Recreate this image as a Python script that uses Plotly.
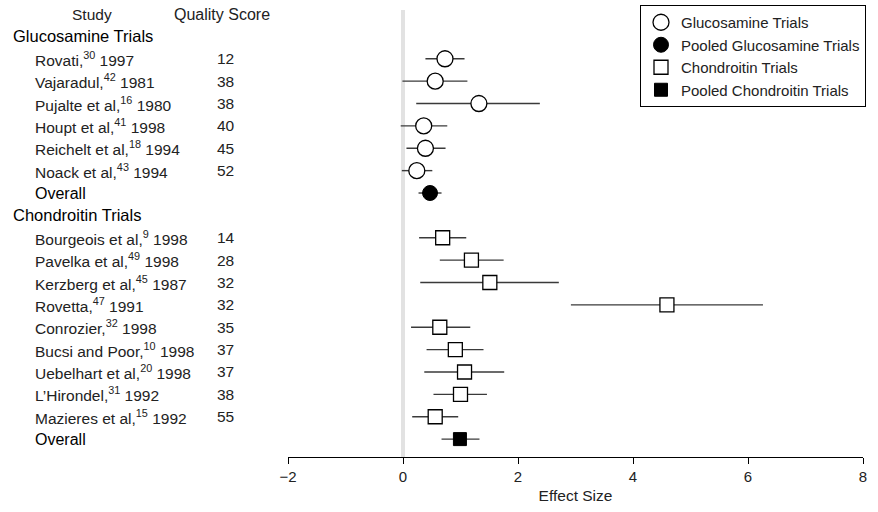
import plotly.graph_objects as go

# ---------------- data ----------------
gluc_studies = ["Rovati,<sup>30</sup> 1997", "Vajaradul,<sup>42</sup> 1981", "Pujalte et al,<sup>16</sup> 1980",
                "Houpt et al,<sup>41</sup> 1998", "Reichelt et al,<sup>18</sup> 1994", "Noack et al,<sup>43</sup> 1994"]
gluc_quality = [12, 38, 38, 40, 45, 52]
gluc_est = [0.73, 0.56, 1.32, 0.36, 0.39, 0.24]
gluc_lo = [0.39, -0.01, 0.23, -0.04, 0.06, -0.02]
gluc_hi = [1.07, 1.12, 2.38, 0.77, 0.74, 0.51]
gluc_pooled_est = [0.47]
gluc_pooled_lo = [0.27]
gluc_pooled_hi = [0.67]

chond_studies = ["Bourgeois et al,<sup>9</sup> 1998", "Pavelka et al,<sup>49</sup> 1998", "Kerzberg et al,<sup>45</sup> 1987",
                 "Rovetta,<sup>47</sup> 1991", "Conrozier,<sup>32</sup> 1998", "Bucsi and Poor,<sup>10</sup> 1998",
                 "Uebelhart et al,<sup>20</sup> 1998", "L’Hirondel,<sup>31</sup> 1992", "Mazieres et al,<sup>15</sup> 1992"]
chond_quality = [14, 28, 32, 32, 35, 37, 37, 38, 55]
chond_est = [0.69, 1.19, 1.51, 4.59, 0.64, 0.91, 1.07, 1.00, 0.56]
chond_lo = [0.28, 0.64, 0.30, 2.92, 0.14, 0.41, 0.37, 0.53, 0.16]
chond_hi = [1.10, 1.75, 2.71, 6.26, 1.17, 1.40, 1.76, 1.46, 0.96]
chond_pooled_est = [0.99]
chond_pooled_lo = [0.67]
chond_pooled_hi = [1.33]

legend_names = ["Glucosamine Trials", "Pooled Glucosamine Trials", "Chondroitin Trials", "Pooled Chondroitin Trials"]

# ---------------- row layout ----------------
row_gluc_header = 1
gluc_rows = list(range(2, 2 + len(gluc_studies)))
row_gluc_overall = gluc_rows[-1] + 1
row_chond_header = row_gluc_overall + 1
chond_rows = list(range(row_chond_header + 1, row_chond_header + 1 + len(chond_studies)))
row_chond_overall = chond_rows[-1] + 1

FONT = "Liberation Sans, Arial, sans-serif"
LINE_COL = "#3a3a3a"
TXT = "#222"


def err(est, lo, hi):
    return dict(type="data", symmetric=False,
                array=[h - e for e, h in zip(est, hi)],
                arrayminus=[e - l for e, l in zip(est, lo)],
                color=LINE_COL, thickness=1.4, width=0)


fig = go.Figure()
fig.add_trace(go.Scatter(x=gluc_est, y=gluc_rows, mode="markers", name=legend_names[0],
                         marker=dict(symbol="circle", size=16, color="white", line=dict(color="black", width=1.3)),
                         error_x=err(gluc_est, gluc_lo, gluc_hi)))
fig.add_trace(go.Scatter(x=gluc_pooled_est, y=[row_gluc_overall], mode="markers", name=legend_names[1],
                         marker=dict(symbol="circle", size=15, color="black", line=dict(color="black", width=1)),
                         error_x=err(gluc_pooled_est, gluc_pooled_lo, gluc_pooled_hi)))
fig.add_trace(go.Scatter(x=chond_est, y=chond_rows, mode="markers", name=legend_names[2],
                         marker=dict(symbol="square", size=14, color="white", line=dict(color="black", width=1.3)),
                         error_x=err(chond_est, chond_lo, chond_hi)))
fig.add_trace(go.Scatter(x=chond_pooled_est, y=[row_chond_overall], mode="markers", name=legend_names[3],
                         marker=dict(symbol="square", size=13, color="black", line=dict(color="black", width=1)),
                         error_x=err(chond_pooled_est, chond_pooled_lo, chond_pooled_hi)))

# ---------------- text columns ----------------
L, PW = 288.0, 575.0


def px(p):
    return (p - L) / PW


ann = []


def add_text(text, xpx, row, anchor="left", size=15.5, color=TXT):
    ann.append(dict(text=text, x=px(xpx), xref="paper", y=row, yref="y", xanchor=anchor, yanchor="middle",
                    showarrow=False, font=dict(family=FONT, size=size, color=color)))


add_text("Study", 92, 0, anchor="center")
add_text("Quality Score", 222, 0, anchor="center", size=16)
add_text("Glucosamine Trials", 11, row_gluc_header, size=16.5, color="black")
for s, q, r in zip(gluc_studies, gluc_quality, gluc_rows):
    add_text(s, 33, r)
    add_text(str(q), 215, r)
add_text("Overall", 33, row_gluc_overall, size=16, color="black")
add_text("Chondroitin Trials", 11, row_chond_header, size=16.5, color="black")
for s, q, r in zip(chond_studies, chond_quality, chond_rows):
    add_text(s, 33, r)
    add_text(str(q), 215, r)
add_text("Overall", 33, row_chond_overall, size=16, color="black")

W, H = 878, 512
fig.update_layout(
    width=W, height=H,
    margin=dict(l=288, r=15, t=10, b=55, autoexpand=False),
    paper_bgcolor="white", plot_bgcolor="white",
    font=dict(family=FONT, size=15, color=TXT),
    annotations=ann,
    showlegend=True,
    legend=dict(xref="container", x=866 / W, xanchor="right",
                yref="container", y=1 - 5 / H, yanchor="top",
                bordercolor="black", borderwidth=1, bgcolor="white",
                font=dict(family=FONT, size=15, color=TXT),
                itemwidth=30, tracegroupgap=0),
    xaxis=dict(range=[-2, 8], dtick=2, tick0=-2, showgrid=False,
               zeroline=True, zerolinecolor="#e2e2e2", zerolinewidth=4,
               showline=True, linecolor="black", linewidth=1,
               ticks="outside", ticklen=6, tickcolor="black", tickwidth=1,
               tickfont=dict(family=FONT, size=15, color=TXT),
               title=dict(text="Effect Size", font=dict(family=FONT, size=15.5, color=TXT), standoff=6)),
    yaxis=dict(range=[row_chond_overall + 0.8, -0.18], visible=False, showgrid=False, zeroline=False),
)

fig.write_html("out.html", config={"displayModeBar": False},
               post_script="document.body.style.margin='0';document.body.style.overflow='hidden';")
